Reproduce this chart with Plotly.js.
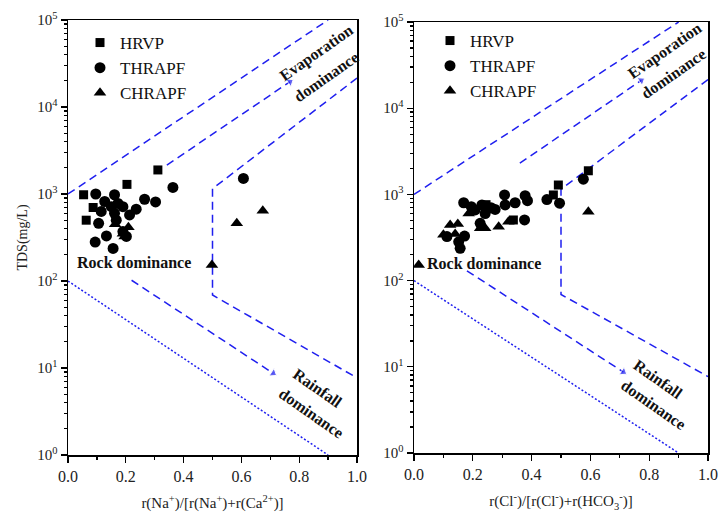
<!DOCTYPE html>
<html><head><meta charset="utf-8">
<script src="https://cdn.plot.ly/plotly-3.0.1.min.js"></script>
<style>html,body{margin:0;padding:0;background:#fff}#plot{width:718px;height:512px}</style>
</head><body><div id="plot"></div><script>
// ---- Data: left panel, r(Na+)/[r(Na+)+r(Ca2+)] vs TDS ----
const hrvpNaX   = [0.054, 0.063, 0.087, 0.204, 0.311];
const hrvpNaTDS = [980, 500, 700, 1290, 1890];
const thrNaX   = [0.096, 0.363, 0.265, 0.303, 0.236, 0.161, 0.127, 0.173, 0.190, 0.150, 0.115, 0.161, 0.213, 0.106, 0.167, 0.133, 0.094, 0.156, 0.202, 0.190, 0.607];
const thrNaTDS = [1000, 1190, 870, 810, 670, 980, 820, 780, 715, 715, 630, 600, 575, 460, 500, 330, 280, 237, 325, 370, 1510];
const chrNaX   = [0.163, 0.190, 0.209, 0.196, 0.498, 0.584, 0.674];
const chrNaTDS = [450, 350, 414, 325, 153, 460, 640];

// ---- Data: right panel, r(Cl-)/[r(Cl-)+r(HCO3-)] vs TDS ----
const hrvpClX   = [0.593, 0.491, 0.474, 0.245, 0.338];
const hrvpClTDS = [1880, 1285, 985, 760, 505];
const thrClX   = [0.169, 0.308, 0.378, 0.386, 0.344, 0.310, 0.276, 0.231, 0.242, 0.208, 0.225, 0.376, 0.172, 0.152, 0.157, 0.112, 0.452, 0.495, 0.576, 0.262, 0.195];
const thrClTDS = [800, 985, 965, 845, 800, 755, 670, 755, 600, 660, 462, 505, 329, 282, 237, 324, 870, 790, 1500, 700, 720];
const chrClX   = [0.123, 0.149, 0.100, 0.140, 0.186, 0.225, 0.242, 0.288, 0.321, 0.593, 0.016];
const chrClTDS = [442, 454, 340, 347, 600, 404, 404, 422, 482, 630, 152];

// ---- Gibbs boundary lines (ratio, TDS) ----
const upperX = [0, 0.9],            upperTDS = [1000, 100000];
const evapLeftX = [0.342, 0.768],   evapLeftTDS = [2150, 19500];
const evapRightX = [0.36, 0.773],   evapRightTDS = [2300, 21000];
const hookX = [1.0, 0.5, 0.5, 1.0], hookTDS = [21500, 1150, 69, 7.7];
const rainLeftX = [0.22, 0.71],     rainLeftTDS = [102, 8.7];
const rainRightX = [0.18, 0.712],   rainRightTDS = [130, 8.7];
const dotX = [0, 0.9],              dotTDS = [100, 1];

// ---- Tick labels ----
const yTickVals = [1, 10, 100, 1000, 10000, 100000];
const yTickText = ['10<sup>0</sup>','10<sup>1</sup>','10<sup>2</sup>','10<sup>3</sup>','10<sup>4</sup>','10<sup>5</sup>'];
const xTickVals = [0, 0.2, 0.4, 0.6, 0.8, 1.0];
const xTickText = ['0.0','0.2','0.4','0.6','0.8','1.0'];

const FONT = 'Liberation Serif, Times New Roman, serif';
const BLUE = '#1f1fef';
const traces = [];
function pts(x, y, name, sym, size, xa, ya, leg) {
  traces.push({x:x, y:y, name:name, type:'scatter', mode:'markers', xaxis:xa, yaxis:ya, legend:leg,
    marker:{symbol:sym, size:size, color:'#000'}});
}
function line(x, y, dash, xa, ya) {
  traces.push({x:x, y:y, type:'scatter', mode:'lines', xaxis:xa, yaxis:ya, showlegend:false, hoverinfo:'skip',
    line:{color:BLUE, width:1.5, dash:dash}});
}
function arrow(x, y, xa, ya) {
  traces.push({x:x, y:y, type:'scatter', mode:'lines+markers', xaxis:xa, yaxis:ya, showlegend:false, hoverinfo:'skip',
    line:{color:BLUE, width:1.5, dash:'8px,5px'},
    marker:{symbol:'triangle-up', size:[0, 8], angleref:'previous', color:BLUE}});
}
const D = '8px,5px', DOT = '2px,2px';
// left lines
line(upperX, upperTDS, D, 'x', 'y');
arrow(evapLeftX, evapLeftTDS, 'x', 'y');
line(hookX, hookTDS, D, 'x', 'y');
arrow(rainLeftX, rainLeftTDS, 'x', 'y');
line(dotX, dotTDS, DOT, 'x', 'y');
// right lines
line(upperX, upperTDS, D, 'x2', 'y2');
arrow(evapRightX, evapRightTDS, 'x2', 'y2');
line(hookX, hookTDS, D, 'x2', 'y2');
arrow(rainRightX, rainRightTDS, 'x2', 'y2');
line(dotX, dotTDS, DOT, 'x2', 'y2');
// points
pts(hrvpNaX, hrvpNaTDS, 'HRVP', 'square', 9, 'x', 'y', 'legend');
pts(thrNaX, thrNaTDS, 'THRAPF', 'circle', 11, 'x', 'y', 'legend');
pts(chrNaX, chrNaTDS, 'CHRAPF', 'triangle-up', 11, 'x', 'y', 'legend');
pts(hrvpClX, hrvpClTDS, 'HRVP', 'square', 9, 'x2', 'y2', 'legend2');
pts(thrClX, thrClTDS, 'THRAPF', 'circle', 11, 'x2', 'y2', 'legend2');
pts(chrClX, chrClTDS, 'CHRAPF', 'triangle-up', 11, 'x2', 'y2', 'legend2');

function xax(domain, anchor, title) {
  return {domain:domain, anchor:anchor, range:[0,1], tickmode:'array', tickvals:xTickVals, ticktext:xTickText,
    ticks:'outside', ticklen:6, tickwidth:1.3, tickcolor:'#000', showline:true, linecolor:'#000', linewidth:1.5,
    mirror:true, showgrid:false, zeroline:false,
    minor:{tickmode:'linear', tick0:0, dtick:0.1, ticks:'outside', ticklen:3, tickcolor:'#000', showgrid:false},
    tickfont:{family:FONT, size:16, color:'#222'},
    title:{text:title, font:{family:FONT, size:15, color:'#222'}, standoff:14}};
}
function yax(domain, anchor, title) {
  return {domain:domain, anchor:anchor, type:'log', range:[0,5], tickmode:'array', tickvals:yTickVals, ticktext:yTickText,
    ticks:'outside', ticklen:6, tickwidth:1.3, tickcolor:'#000', showline:true, linecolor:'#000', linewidth:1.5,
    mirror:true, showgrid:false, zeroline:false,
    minor:{tickmode:'linear', dtick:'D1', ticks:'outside', ticklen:3, tickcolor:'#000', showgrid:false},
    tickfont:{family:FONT, size:15, color:'#222'},
    title:{text:title, font:{family:FONT, size:14, color:'#222'}, standoff:6}};
}

const L = Math.log10;
function txt(x, y, t, xr, yr, ang, size) {
  return {x:x, y:L(y), xref:xr, yref:yr, text:t, showarrow:false, textangle:ang,
    font:{family:FONT, size:size, color:'#111', weight:'bold'}};
}
const annotations = [
  txt(0.861, Math.pow(10,4.617), '<b>Evaporation</b>', 'x', 'y', -35, 16),
  txt(0.895, Math.pow(10,4.348), '<b>dominance</b>', 'x', 'y', -35, 16),
  txt(0.853, Math.pow(10,4.667), '<b>Evaporation</b>', 'x2', 'y2', -35, 16),
  txt(0.883, Math.pow(10,4.405), '<b>dominance</b>', 'x2', 'y2', -35, 16),
  txt(0.866, Math.pow(10,0.767), '<b>Rainfall</b>', 'x', 'y', 35, 16),
  txt(0.844, Math.pow(10,0.479), '<b>dominance</b>', 'x', 'y', 35, 16),
  txt(0.831, Math.pow(10,0.847), '<b>Rainfall</b>', 'x2', 'y2', 35, 16),
  txt(0.813, Math.pow(10,0.557), '<b>dominance</b>', 'x2', 'y2', 35, 16),
  txt(0.227, Math.pow(10,2.215), '<b>Rock dominance</b>', 'x', 'y', 0, 16),
  txt(0.237, Math.pow(10,2.193), '<b>Rock dominance</b>', 'x2', 'y2', 0, 16)
];

const legendBase = {xanchor:'left', yanchor:'top', bgcolor:'rgba(0,0,0,0)', borderwidth:0,
  font:{family:FONT, size:17, color:'#111'}, tracegroupgap:0, itemclick:false};

const layout = {
  width:718, height:512, paper_bgcolor:'#fff', plot_bgcolor:'#fff',
  margin:{l:0, r:0, t:0, b:0},
  showlegend:true,
  xaxis: xax([68/718, 357/718], 'y', 'r(Na<sup>+</sup>)/[r(Na<sup>+</sup>)+r(Ca<sup>2+</sup>)]'),
  yaxis: yax([1-455/512, 1-20/512], 'x', 'TDS(mg/L)'),
  xaxis2: xax([414/718, 708/718], 'y2', 'r(Cl<sup>-</sup>)/[r(Cl<sup>-</sup>)+r(HCO<sub>3</sub><sup>-</sup>)]'),
  yaxis2: yax([1-453/512, 1-22/512], 'x2', ''),
  legend: Object.assign({x:80/718, y:1-25/512}, legendBase),
  legend2: Object.assign({x:430/718, y:1-23/512}, legendBase),
  annotations: annotations
};
Plotly.newPlot('plot', traces, layout, {staticPlot:true, displayModeBar:false});
</script></body></html>
